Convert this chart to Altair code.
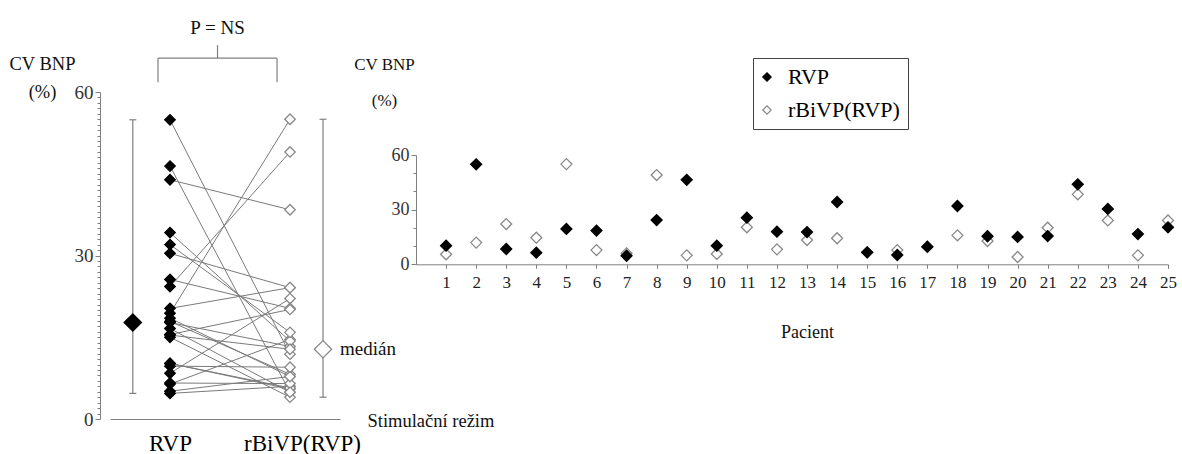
import altair as alt
import pandas as pd

# ---------------- data ----------------
patients = list(range(1, 26))
rvp = [10.2, 54.9, 8.4, 6.4, 19.4, 18.5, 4.7, 24.3, 46.4, 10.2, 25.6, 17.9, 17.7,
       34.2, 6.6, 5.1, 9.7, 32.0, 15.4, 15.0, 15.5, 43.9, 30.4, 16.6, 20.3]
rbivp = [5.5, 11.9, 22.1, 14.6, 55.0, 7.8, 6.0, 49.0, 4.9, 5.7, 20.3, 8.2, 13.3,
         14.3, 6.5, 7.8, 9.5, 15.9, 12.8, 4.0, 20.1, 38.4, 24.1, 4.9, 24.1]
series_names = ["RVP", "rBiVP(RVP)"]
p_text = "P = NS"
median_text = "medián"
x_title_left = "Stimulační režim"
x_title_right = "Pacient"
y_title = ["CV BNP", "(%)"]

# ---------------- layout constants ----------------
FONT = "Liberation Serif, Times New Roman, serif"
AX = "#808080"
POS_CAT = {series_names[0]: 1.0, series_names[1]: 2.0}
POS_MED = {series_names[0]: 0.69, series_names[1]: 2.275}

rows = []
for p, b in zip(patients, rbivp):
    rows.append({"patient": p, "series": series_names[1], "value": b})
for p, a in zip(patients, rvp):
    rows.append({"patient": p, "series": series_names[0], "value": a})
df = pd.DataFrame(rows)

bracket = pd.DataFrame([
    {"x": 0.9, "x2": 1.892, "y": 66.2, "y2": 66.2},
    {"x": 0.9, "x2": 0.9, "y": 61.8, "y2": 66.2},
    {"x": 1.892, "x2": 1.892, "y": 61.8, "y2": 66.2},
    {"x": 1.396, "x2": 1.396, "y": 66.2, "y2": 68.6},
])
ptext = pd.DataFrame([{"x": 1.396, "y": 71.7, "t": p_text}])

# ---------------- scales ----------------
lx = alt.Scale(domain=[0.5, 2.41667], range=[10, 240], nice=False, zero=False)
ly = alt.Scale(domain=[0, 60], range=[327, 0], nice=False, zero=False)
rx = alt.Scale(domain=[0, 25], range=[316, 1068], nice=False, zero=False)
ry = alt.Scale(domain=[0, 60], range=[172.3, 63], nice=False, zero=False)

major = "datum.value % 30 === 0"

left_x_axis = alt.Axis(
    orient="bottom", values=[1, 2.1],
    labelExpr=f"datum.value === 1 ? '{series_names[0]}' : '{series_names[1]}'",
    ticks=False, labelFont=FONT, labelFontSize=23, labelColor="#000",
    labelPadding=13, domainColor=AX, grid=False, labelFlush=False,
    title=x_title_left, titleX=267, titleY=7, titleAlign="left",
    titleBaseline="alphabetic", titleFont=FONT, titleFontSize=18.5,
    titleFontWeight="normal", titleColor="#111",
)
left_y_axis = alt.Axis(
    orient="left", values=[i * 0.5 for i in range(121)], format="d",
    labelExpr=f"{major} ? datum.label : ''",
    tickSize={"condition": {"test": major, "value": 5}, "value": 3},
    tickColor=AX, domainColor=AX, labelFont=FONT, labelFontSize=19,
    labelColor="#333", labelPadding=2, labelOverlap=False, grid=False,
    title=y_title, titleAngle=0, titleX=-58, titleY=-23, titleAlign="center",
    titleBaseline="alphabetic", titleLineHeight=28, titleFont=FONT,
    titleFontSize=18.5, titleFontWeight="normal", titleColor="#111",
)
right_x_axis = alt.Axis(
    orient="bottom", offset=-154.7, values=patients, tickSize=4,
    tickColor=AX, domainColor=AX, labelFont=FONT, labelFontSize=17,
    labelColor="#222", labelPadding=6, grid=False, labelFlush=False,
    title=x_title_right, titleX=707, titleY=68, titleAlign="center",
    titleBaseline="middle", titleFont=FONT, titleFontSize=18,
    titleFontWeight="normal", titleColor="#111",
)
right_y_axis = alt.Axis(
    orient="left", offset=-316, values=[0, 10, 20, 30, 40, 50, 60],
    labelExpr=f"{major} ? datum.label : ''",
    tickSize={"condition": {"test": major, "value": 5}, "value": 3},
    tickColor=AX, domainColor=AX, labelFont=FONT, labelFontSize=18,
    labelColor="#333", labelPadding=2, grid=False,
    title=y_title, titleAngle=0, titleX=-32, titleY=-23, titleAlign="center",
    titleBaseline="alphabetic", titleLineHeight=36, titleFont=FONT,
    titleFontSize=17, titleFontWeight="normal", titleColor="#111",
)

legend = alt.Legend(
    orient="none", legendX=653, legendY=-34, title=None,
    symbolType="diamond", symbolSize=70, symbolStrokeWidth=1.2,
    labelFont=FONT, labelFontSize=22, labelColor="#000",
    padding=8, rowPadding=11, labelOffset=10, symbolOffset=-5,
    strokeColor="#444", fillColor="#fff",
)
fill_enc = alt.Fill("series:N", scale=alt.Scale(domain=series_names, range=["#000", "#fff"]), legend=legend)
stroke_enc = alt.Stroke("series:N", scale=alt.Scale(domain=series_names, range=["#000", "#888"]), legend=legend)

cat_expr = f"datum.series === '{series_names[0]}' ? {POS_CAT[series_names[0]]} : {POS_CAT[series_names[1]]}"
med_expr = f"datum.series === '{series_names[0]}' ? {POS_MED[series_names[0]]} : {POS_MED[series_names[1]]}"

LX = lambda f: alt.X(f, scale=lx, axis=left_x_axis)
LY = lambda f: alt.Y(f, scale=ly, axis=left_y_axis)

base = alt.Chart(df).transform_calculate(xc=cat_expr)

lines = base.mark_line(color="#7a7a7a", strokeWidth=1).encode(
    x=LX("xc:Q"), y=LY("value:Q"), detail="patient:N")
lpoints = base.mark_point(shape="diamond", filled=True, size=110, strokeWidth=1.3, opacity=1).encode(
    x=LX("xc:Q"), y=LY("value:Q"), fill=fill_enc, stroke=stroke_enc)

agg = alt.Chart(df).transform_aggregate(
    med="median(value)", lo="min(value)", hi="max(value)", groupby=["series"]
).transform_calculate(mx=med_expr)

whisk = agg.mark_rule(color=AX, strokeWidth=1.2).encode(x=LX("mx:Q"), y=LY("lo:Q"), y2="hi:Q")
cap_hi = agg.mark_rule(color=AX, strokeWidth=1.2, xOffset=-3.5, x2Offset=3.5).encode(
    x=LX("mx:Q"), x2="mx:Q", y=LY("hi:Q"))
cap_lo = agg.mark_rule(color=AX, strokeWidth=1.2, xOffset=-3.5, x2Offset=3.5).encode(
    x=LX("mx:Q"), x2="mx:Q", y=LY("lo:Q"))
medpts = agg.mark_point(shape="diamond", filled=True, size=300, strokeWidth=1.3, opacity=1).encode(
    x=LX("mx:Q"), y=LY("med:Q"), fill=fill_enc, stroke=stroke_enc)
medtxt = agg.transform_filter(f"datum.series === '{series_names[1]}'").mark_text(
    align="left", baseline="middle", dx=17, font=FONT, fontSize=19, color="#111").encode(
    x=LX("mx:Q"), y=LY("med:Q"), text=alt.value(median_text))

brk = alt.Chart(bracket).mark_rule(color=AX, strokeWidth=1.2).encode(
    x=LX("x:Q"), x2="x2:Q", y=LY("y:Q"), y2="y2:Q")
ptxt = alt.Chart(ptext).mark_text(font=FONT, fontSize=19, baseline="middle", color="#111").encode(
    x=LX("x:Q"), y=LY("y:Q"), text="t:N")

left = alt.layer(lines, whisk, cap_hi, cap_lo, lpoints, medpts, medtxt, brk, ptxt)

right = alt.Chart(df).mark_point(shape="diamond", filled=True, size=120, strokeWidth=1.3, opacity=1).encode(
    x=alt.X("patient:Q", scale=rx, axis=right_x_axis),
    y=alt.Y("value:Q", scale=ry, axis=right_y_axis),
    fill=fill_enc, stroke=stroke_enc,
)

chart = alt.layer(left, right).resolve_scale(x="independent", y="independent").properties(
    width=1082, height=327,
    padding={"left": 100, "top": 92, "right": 0, "bottom": 35},
    autosize=alt.AutoSizeParams(type="none"),
    background="#ffffff",
).configure(font=FONT).configure_view(stroke=None).configure_axis(
    labelFont=FONT, titleFont=FONT
).configure_text(font=FONT).configure_legend(labelFont=FONT)

chart.save("out.html", embed_options={"renderer": "svg", "actions": False})
